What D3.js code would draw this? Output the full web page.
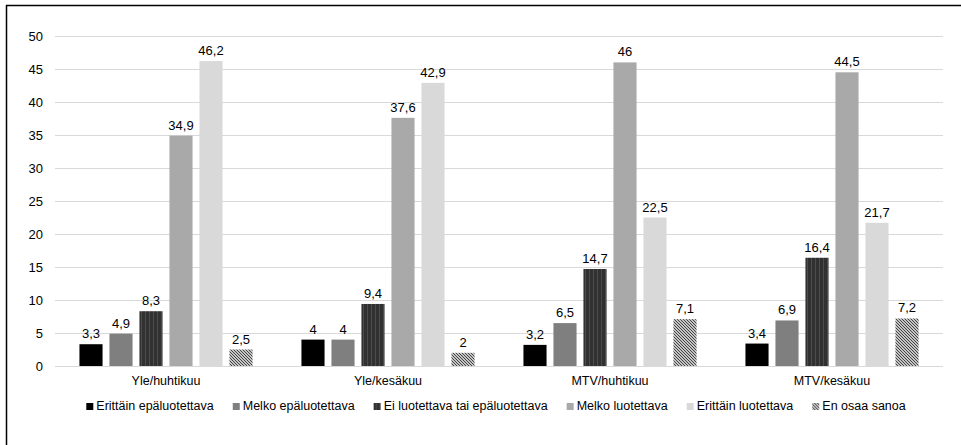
<!DOCTYPE html>
<html>
<head>
<meta charset="utf-8">
<script src="https://cdn.jsdelivr.net/npm/d3@7"></script>
<style>
  body { margin: 0; background: #fff; }
  svg { font-family: "Liberation Sans", Arial, sans-serif; }
</style>
</head>
<body>
<svg id="kaavio" width="961" height="445"></svg>
<script>
// Data
const ryhmat = ["Yle/huhtikuu", "Yle/kesäkuu", "MTV/huhtikuu", "MTV/kesäkuu"];
const sarjat = ["Erittäin epäluotettava", "Melko epäluotettava", "Ei luotettava tai epäluotettava",
  "Melko luotettava", "Erittäin luotettava", "En osaa sanoa"];
const erittainEpa = [3.3, 4, 3.2, 3.4];
const melkoEpa = [4.9, 4, 6.5, 6.9];
const eiLuotEpa = [8.3, 9.4, 14.7, 16.4];
const melkoLuot = [34.9, 37.6, 46, 44.5];
const erittainLuot = [46.2, 42.9, 22.5, 21.7];
const enOsaa = [2.5, 2, 7.1, 7.2];
const yTicks = [0, 5, 10, 15, 20, 25, 30, 35, 40, 45, 50];

const arvot = [erittainEpa, melkoEpa, eiLuotEpa, melkoLuot, erittainLuot, enOsaa];
const taytot = ["#000000", "#7f7f7f", "url(#raidat)", "#a9a9a9", "#d9d9d9", "url(#vinot)"];

const svg = d3.select("#kaavio");

// Kehys (vain ylä- ja vasen reuna näkyvät)
svg.append("line").attr("x1", 6).attr("x2", 961).attr("y1", 5.5).attr("y2", 5.5)
  .attr("stroke", "#000").attr("stroke-width", 1.5);
svg.append("line").attr("x1", 6.5).attr("x2", 6.5).attr("y1", 5).attr("y2", 445)
  .attr("stroke", "#000").attr("stroke-width", 1.5);

// Kuviot
const defs = svg.append("defs");
const raidat = defs.append("pattern").attr("id", "raidat").attr("patternUnits", "userSpaceOnUse")
  .attr("width", 4).attr("height", 4);
raidat.append("rect").attr("width", 4).attr("height", 4).attr("fill", "#313131");
raidat.append("rect").attr("x", 2).attr("width", 1).attr("height", 4).attr("fill", "#4c4c4c");

const vinot = defs.append("pattern").attr("id", "vinot").attr("patternUnits", "userSpaceOnUse")
  .attr("width", 3).attr("height", 3);
vinot.append("rect").attr("width", 3).attr("height", 3).attr("fill", "#c4c4c4");
vinot.append("path").attr("d", "M-1,-1 L4,4 M-1,2 L1,4 M2,-1 L4,1")
  .attr("stroke", "#444").attr("stroke-width", 1);

const vasen = 55, oikea = 943, yla = 36, ala = 366;

const x0 = d3.scaleBand().domain(ryhmat).range([vasen, oikea]);
const x1 = d3.scaleBand().domain(sarjat).range([21, x0.bandwidth() - 21]).paddingInner(0.23).paddingOuter(0.115);
const y = d3.scaleLinear().domain([0, 50]).range([ala, yla]);

// Ruudukko
svg.append("g").selectAll("line").data(yTicks).join("line")
  .attr("x1", vasen).attr("x2", oikea)
  .attr("y1", d => Math.round(y(d)) + 0.5).attr("y2", d => Math.round(y(d)) + 0.5)
  .attr("stroke", "#d9d9d9").attr("stroke-width", 1);

// Y-akseli
const yAks = svg.append("g").attr("transform", `translate(${vasen - 12},0)`)
  .call(d3.axisLeft(y).tickValues(yTicks).tickSize(0).tickPadding(0));
yAks.select(".domain").remove();
yAks.selectAll("text").attr("font-size", 13).attr("fill", "#000")
  .attr("font-family", "Liberation Sans, Arial, sans-serif");

// Pylväät
const ryhmaG = svg.append("g").selectAll("g").data(ryhmat).join("g")
  .attr("transform", d => `translate(${x0(d)},0)`);

ryhmaG.each(function(ryhma, gi) {
  const g = d3.select(this);
  const rivit = sarjat.map((s, si) => ({ s, si, v: arvot[si][gi] }));
  g.selectAll("rect").data(rivit).join("rect")
    .attr("x", d => x1(d.s))
    .attr("width", x1.bandwidth())
    .attr("y", d => y(d.v))
    .attr("height", d => y(0) - y(d.v))
    .attr("fill", d => taytot[d.si]);
  g.selectAll("text").data(rivit).join("text")
    .attr("x", d => x1(d.s) + x1.bandwidth() / 2)
    .attr("y", d => y(d.v) - 6)
    .attr("text-anchor", "middle")
    .attr("font-size", 13)
    .text(d => String(d.v).replace(".", ","));
});

// Perusviiva
svg.append("line").attr("x1", vasen).attr("x2", oikea)
  .attr("y1", ala + 0.5).attr("y2", ala + 0.5).attr("stroke", "#d9d9d9");

// X-akselin nimet
const xAks = svg.append("g").attr("transform", `translate(0,${ala})`)
  .call(d3.axisBottom(x0).tickSize(0).tickPadding(10));
xAks.select(".domain").remove();
xAks.selectAll("text").attr("font-size", 12.5).attr("fill", "#000")
  .attr("font-family", "Liberation Sans, Arial, sans-serif");

// Selite
const selite = svg.append("g");
let kx = 0;
sarjat.forEach((s, i) => {
  const item = selite.append("g");
  item.append("rect").attr("x", 0).attr("y", -7).attr("width", 7).attr("height", 7).attr("fill", taytot[i]);
  const t = item.append("text").attr("x", 10).attr("y", 0).attr("font-size", 12.5).text(s);
  const w = t.node().getComputedTextLength();
  item.attr("transform", `translate(${kx},0)`);
  kx += 10 + w + 19;
});
const leveys = kx - 19;
selite.attr("transform", `translate(${(vasen + oikea) / 2 - leveys / 2 - 3},410)`);
</script>
</body>
</html>
